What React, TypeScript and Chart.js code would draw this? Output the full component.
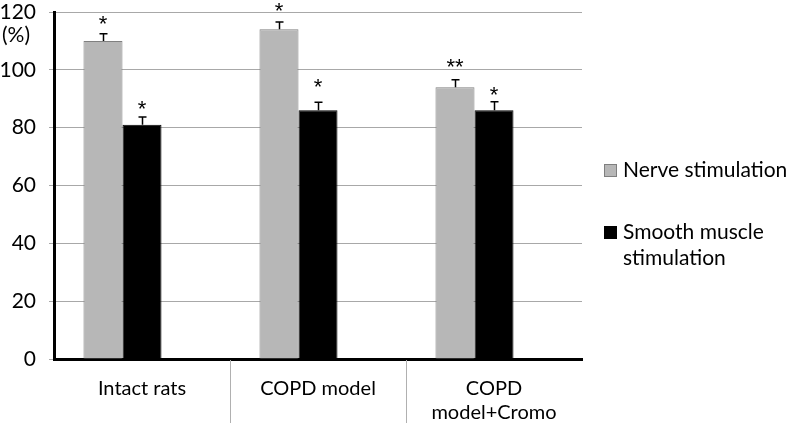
import React, { useEffect, useRef } from "react";
import { Chart, registerables } from "chart.js";

Chart.register(...registerables);

const categories: (string | string[])[] = ["Intact rats", "COPD model", ["COPD", "model+Cromo"]];
const nerveValues = [110, 114, 94];
const nerveErrors = [2.5, 2.5, 2.6];
const smoothValues = [81, 86, 86];
const smoothErrors = [2.7, 2.8, 3.0];
const nerveStars = ["*", "*", "**"];
const nerveStarLevels = [117.2, 121.8, 102.5];
const smoothStars = ["*", "*", "*"];
const smoothStarLevels = [87.8, 95.3, 92.8];
const yTicks = [0, 20, 40, 60, 80, 100, 120];
const yUnitLabel = "(%)";
const legendLabels: string[][] = [["Nerve stimulation"], ["Smooth muscle", "stimulation"]];

const FONT = "Lato, 'Open Sans', sans-serif";
const STAR_FONT = "'Liberation Sans', Arial, sans-serif";
const GRAY = "#b7b7b7";

const errorPlugin = {
  id: "errorAndStars",
  afterDatasetsDraw(chart: any) {
    const ctx = chart.ctx;
    const y = chart.scales.y;
    const sets = [
      { idx: 0, vals: nerveValues, errs: nerveErrors, stars: nerveStars, lv: nerveStarLevels },
      { idx: 1, vals: smoothValues, errs: smoothErrors, stars: smoothStars, lv: smoothStarLevels },
    ];
    ctx.save();
    ctx.strokeStyle = "#000";
    ctx.lineWidth = 1.5;
    ctx.fillStyle = "#000";
    ctx.font = `22px ${STAR_FONT}`;
    ctx.textAlign = "center";
    for (const s of sets) {
      const meta = chart.getDatasetMeta(s.idx);
      meta.data.forEach((bar: any, i: number) => {
        const x = Math.round(bar.x) + 0.5;
        const top = y.getPixelForValue(s.vals[i]);
        const cap = y.getPixelForValue(s.vals[i] + s.errs[i]);
        ctx.beginPath();
        ctx.moveTo(x, top);
        ctx.lineTo(x, cap);
        ctx.moveTo(x - 4, cap);
        ctx.lineTo(x + 4, cap);
        ctx.stroke();
        const txt = s.stars[i];
        const m = ctx.measureText(txt);
        const cy = y.getPixelForValue(s.lv[i]);
        const base = cy + (m.actualBoundingBoxAscent - m.actualBoundingBoxDescent) / 2;
        ctx.fillText(txt, bar.x, base);
      });
    }
    ctx.restore();
  },
  afterDraw(chart: any) {
    const ctx = chart.ctx;
    const area = chart.chartArea;
    const x = chart.scales.x;
    ctx.save();
    ctx.strokeStyle = "#b0b0b0";
    ctx.lineWidth = 1;
    for (let i = 1; i < categories.length; i++) {
      const px = Math.round((x.getPixelForTick(i - 1) + x.getPixelForTick(i)) / 2) + 0.5;
      ctx.beginPath();
      ctx.moveTo(px, area.bottom + 1);
      ctx.lineTo(px, chart.height);
      ctx.stroke();
    }
    ctx.fillStyle = "#000";
    ctx.font = `21px ${FONT}`;
    ctx.textAlign = "left";
    ctx.textBaseline = "middle";
    ctx.fillText(yUnitLabel, 2, 35);
    const colors = [GRAY, "#000"];
    const borders = ["#7f7f7f", "#000"];
    const tops = [164, 226];
    ctx.font = `21px ${FONT}`;
    ctx.textBaseline = "alphabetic";
    legendLabels.forEach((lines, i) => {
      ctx.fillStyle = colors[i];
      ctx.fillRect(604, tops[i], 13, 13);
      ctx.strokeStyle = borders[i];
      ctx.lineWidth = 1;
      ctx.strokeRect(604.5, tops[i] + 0.5, 12, 12);
      ctx.fillStyle = "#000";
      lines.forEach((ln, j) => {
        ctx.fillText(ln, 623, tops[i] + 13 + j * 26);
      });
    });
    ctx.restore();
  },
};

export default function App() {
  const ref = useRef<HTMLCanvasElement | null>(null);
  useEffect(() => {
    if (!ref.current) return;
    const chart = new Chart(ref.current, {
      type: "bar",
      data: {
        labels: categories,
        datasets: [
          {
            label: legendLabels[0].join(" "),
            data: nerveValues,
            backgroundColor: GRAY,
            borderColor: "#808080",
            borderWidth: 1,
          },
          {
            label: legendLabels[1].join(" "),
            data: smoothValues,
            backgroundColor: "#000",
            borderColor: "#000",
            borderWidth: 1,
          },
          {
            label: "",
            data: [null, null, null],
            backgroundColor: "rgba(0,0,0,0)",
          },
        ],
      },
      options: {
        responsive: false,
        animation: false,
        maintainAspectRatio: false,
        layout: { padding: { top: 12, right: 205, left: 0, bottom: 0 } },
        plugins: { legend: { display: false }, tooltip: { enabled: false } },
        datasets: { bar: { categoryPercentage: 0.665, barPercentage: 1.0 } },
        scales: {
          x: {
            grid: { display: false },
            border: { display: true, color: "#000", width: 3 },
            ticks: {
              color: "#000",
              font: { family: FONT, size: 20 },
              padding: 10,
              maxRotation: 0,
              autoSkip: false,
            },
            afterFit(scale: any) {
              scale.height = 64;
              scale.paddingLeft = 0;
              scale.paddingRight = 0;
            },
          },
          y: {
            min: 0,
            max: 120,
            afterBuildTicks(scale: any) {
              scale.ticks = yTicks.map((v) => ({ value: v }));
            },
            grid: { color: "#a8a8a8", lineWidth: 1, tickLength: 5, drawTicks: true },
            border: { display: true, color: "#000", width: 3 },
            ticks: {
              color: "#000",
              font: { family: FONT, size: 21 },
              padding: 13,
            },
            afterFit(scale: any) {
              scale.width = 54;
              scale.paddingTop = 0;
              scale.paddingBottom = 0;
            },
          },
        },
      },
      plugins: [errorPlugin],
    });
    return () => chart.destroy();
  }, []);
  return (
    <div style={{ position: "fixed", left: 0, top: 0, width: 787, height: 423, background: "#fff" }}>
      <canvas ref={ref} width={787} height={423} style={{ display: "block" }} />
    </div>
  );
}
